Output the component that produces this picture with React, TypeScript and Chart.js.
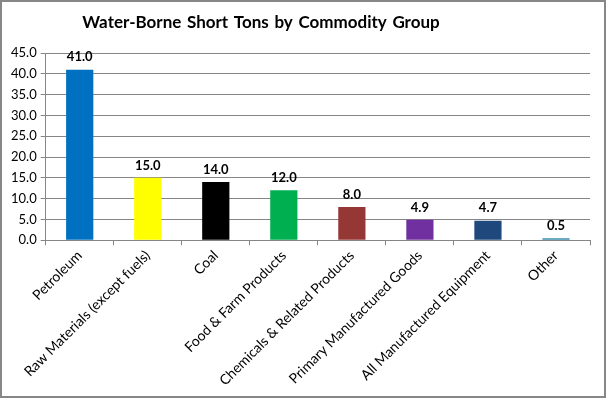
import React, { useEffect, useRef } from "react";
import { Chart, registerables } from "chart.js";

Chart.register(...registerables);

const titleText = "Water-Borne Short Tons by Commodity Group";
const categories = [
  "Petroleum",
  "Raw Materials (except fuels)",
  "Coal",
  "Food & Farm Products",
  "Chemicals & Related Products",
  "Primary Manufactured Goods",
  "All Manufactured Equipment",
  "Other",
];
const tons = [41.0, 15.0, 14.0, 12.0, 8.0, 4.9, 4.7, 0.5];
const barColors = [
  "#0070C0",
  "#FFFF00",
  "#000000",
  "#00B050",
  "#953735",
  "#7030A0",
  "#1F497D",
  "#3C8DAD",
];
const yMin = 0;
const yMax = 45;
const yStep = 5;

const FONT = "Lato, 'Open Sans', sans-serif";

const dataLabels = {
  id: "dataLabels",
  afterDatasetsDraw(chart: any) {
    const ctx = chart.ctx;
    const meta = chart.getDatasetMeta(0);
    const values = chart.data.datasets[0].data as number[];
    ctx.save();
    ctx.font = `bold 13px ${FONT}`;
    ctx.fillStyle = "#000";
    ctx.textAlign = "center";
    ctx.textBaseline = "bottom";
    meta.data.forEach((el: any, i: number) => {
      ctx.fillText(values[i].toFixed(1), el.x, el.y - 6);
    });
    ctx.restore();
  },
};

const chartTitle = {
  id: "chartTitle",
  afterDraw(chart: any) {
    const ctx = chart.ctx;
    ctx.save();
    ctx.font = `bold 17px ${FONT}`;
    try {
      (ctx as any).wordSpacing = "1.5px";
    } catch (e) {}
    ctx.fillStyle = "#000";
    ctx.textAlign = "center";
    ctx.textBaseline = "middle";
    ctx.fillText(titleText, 259, 21);
    ctx.restore();
  },
};

export default function App() {
  const ref = useRef<HTMLCanvasElement | null>(null);
  useEffect(() => {
    document.body.style.margin = "0";
    if (!ref.current) return;
    const chart = new Chart(ref.current, {
      type: "bar",
      data: {
        labels: categories,
        datasets: [
          {
            data: tons,
            backgroundColor: barColors,
            borderWidth: 0,
            categoryPercentage: 1,
            barPercentage: 0.4,
          },
        ],
      },
      options: {
        animation: false,
        responsive: false,
        maintainAspectRatio: false,
        layout: { padding: { left: 5, right: 14, top: 51, bottom: 5 } },
        plugins: {
          legend: { display: false },
          tooltip: { enabled: false },
          title: { display: false },
        },
        scales: {
          x: {
            grid: {
              offset: true,
              drawOnChartArea: false,
              drawTicks: true,
              tickLength: 5,
              color: "#868686",
            },
            border: { display: true, color: "#868686" },
            ticks: {
              color: "#000",
              font: { family: FONT, size: 14 },
              maxRotation: 45,
              minRotation: 45,
              autoSkip: false,
              padding: 2,
            },
          },
          y: {
            min: yMin,
            max: yMax,
            ticks: {
              stepSize: yStep,
              color: "#000",
              font: { family: FONT, size: 13 },
              padding: 4,
              callback: (v: any) => Number(v).toFixed(1),
            },
            grid: { color: "#868686", tickLength: 5 },
            border: { display: true, color: "#868686" },
          },
        },
      },
      plugins: [dataLabels, chartTitle],
    });
    return () => chart.destroy();
  }, []);
  return (
    <div
      style={{
        width: 606,
        height: 398,
        border: "2px solid #878787",
        boxSizing: "border-box",
        background: "#fff",
      }}
    >
      <canvas ref={ref} width={602} height={394} style={{ display: "block" }} />
    </div>
  );
}
